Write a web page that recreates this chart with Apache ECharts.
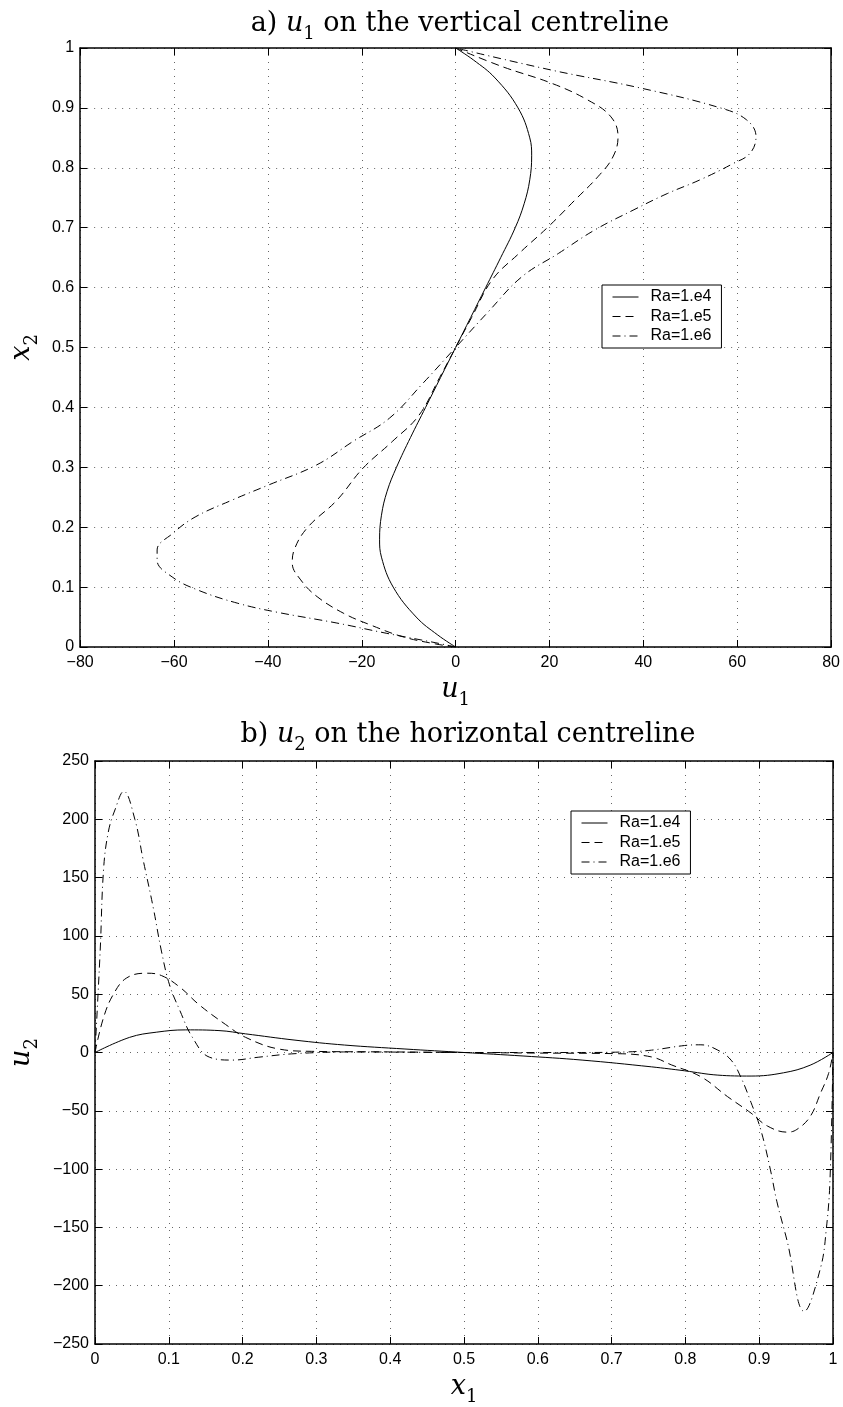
<!DOCTYPE html>
<html>
<head>
<meta charset="utf-8">
<script src="https://cdn.jsdelivr.net/npm/echarts@6/dist/echarts.min.js"></script>
<style>
  html, body { margin: 0; padding: 0; background: #fff; }
  #chart { width: 843px; height: 1407px; }
</style>
</head>
<body>
<div id="chart"></div>
<script>
// series names
const names = ['Ra=1.e4', 'Ra=1.e5', 'Ra=1.e6'];

// a) u1 on the vertical centreline  (x2 -> u1)
const aX2e4 = [0, 0.02, 0.05, 0.1, 0.15, 0.18, 0.22, 0.26, 0.3, 0.35, 0.4, 0.45, 0.5, 0.55, 0.6, 0.65, 0.7, 0.74, 0.78, 0.82, 0.85, 0.9, 0.95, 0.98, 1];
const aU1e4 = [0, -3.8, -8.4, -13.3, -15.8, -16.2, -15.8, -14.6, -12.6, -9.6, -6.4, -3.2, 0, 3.2, 6.4, 9.6, 12.7, 14.6, 15.8, 16.2, 15.8, 13.3, 8.4, 3.8, 0];

const aX2e5 = [0, 0.005, 0.017, 0.037, 0.056, 0.084, 0.112, 0.14, 0.162, 0.199, 0.245, 0.298, 0.343, 0.387, 0.45, 0.5, 0.55, 0.613, 0.657, 0.702, 0.746, 0.785, 0.818, 0.852, 0.885, 0.913, 0.941, 0.969, 1];
const aU1e5 = [0, -4.2, -11.2, -18.2, -23.8, -29.5, -33, -34.8, -34.4, -31.6, -25.3, -19.8, -13.5, -7.8, -3.4, 0, 3.4, 7.8, 13.5, 19.8, 25.4, 30.3, 33.5, 34.6, 33.1, 28.2, 20.5, 9.9, 0];

const aX2e6 = [0, 0.007, 0.023, 0.04, 0.058, 0.073, 0.095, 0.117, 0.145, 0.162, 0.19, 0.217, 0.245, 0.27, 0.304, 0.343, 0.382, 0.44, 0.5, 0.56, 0.618, 0.657, 0.696, 0.73, 0.757, 0.78, 0.807, 0.824, 0.852, 0.88, 0.9, 0.933, 0.963, 1];
const aU1e6 = [0, -4.2, -14.8, -25.3, -38, -46.4, -54.9, -60.4, -63.6, -63.6, -60.2, -55.5, -47.7, -40, -29.6, -21.9, -14.1, -7, 0, 7, 14.1, 21.9, 29.6, 38, 45.1, 52.1, 59.1, 62.7, 64, 62, 56.4, 39.5, 20.5, 0];

// b) u2 on the horizontal centreline  (x1 -> u2)
const bX1e4 = [0, 0.047, 0.083, 0.123, 0.168, 0.204, 0.271, 0.338, 0.42, 0.5, 0.58, 0.66, 0.754, 0.799, 0.844, 0.889, 0.933, 0.969, 1];
const bU2e4 = [0, 13, 17.4, 19.4, 18.8, 16, 10.6, 6.4, 3, 0, -3, -6.5, -12.3, -15.7, -19.4, -20.2, -17.4, -10.9, 0];

const bX1e5 = [0, 0.0116, 0.025, 0.043, 0.07, 0.09, 0.115, 0.141, 0.177, 0.204, 0.249, 0.293, 0.4, 0.5, 0.6, 0.707, 0.754, 0.781, 0.821, 0.857, 0.889, 0.911, 0.938, 0.951, 0.969, 0.983, 0.994, 1];
const bU2e5 = [0, 30, 50, 64, 68, 66, 56, 41, 24, 13, 3, 1, 0.5, 0, -0.5, -1, -3.8, -10.6, -20.8, -37.8, -52, -63, -68.3, -66, -55, -35, -18, 0];

const bX1e6 = [0, 0.007, 0.0116, 0.018, 0.027, 0.039, 0.054, 0.065, 0.079, 0.09, 0.101, 0.115, 0.132, 0.155, 0.186, 0.222, 0.271, 0.35, 0.5, 0.65, 0.72, 0.754, 0.799, 0.821, 0.844, 0.862, 0.875, 0.889, 0.902, 0.915, 0.924, 0.938, 0.961, 0.983, 0.991, 0.996, 1];
const bU2e6 = [0, 87, 157, 189, 208, 224, 200, 166, 124, 87, 58, 36, 13, -4, -6.5, -4, -1, 0.5, 0, 0, 0.5, 2, 6, 6.6, 2, -6.6, -21, -43, -66, -100, -128, -162, -222, -185, -151, -108, 0];

const lineTypes = ['solid', [8, 5], [8, 4, 1, 4]];

const chart = echarts.init(document.getElementById('chart'));

const serif = 'DejaVu Serif';
const sans = 'Liberation Sans';
const rich = {
  t: { fontFamily: serif, fontWeight: 'normal', fontSize: 27, color: '#000', padding: [0, 0, 6, 0], verticalAlign: 'bottom' },
  ti: { fontFamily: serif, fontWeight: 'normal', fontStyle: 'italic', fontSize: 27, color: '#000', padding: [0, 0, 6, 0], verticalAlign: 'bottom' },
  ts: { fontFamily: serif, fontWeight: 'normal', fontSize: 18, color: '#000', verticalAlign: 'bottom' },
  i: { fontFamily: serif, fontStyle: 'italic', fontSize: 27, color: '#000', padding: [0, 0, 6, 0], verticalAlign: 'bottom' },
  s: { fontFamily: serif, fontSize: 18, color: '#000', verticalAlign: 'bottom' }
};

const fmt = v => String(+(+v).toFixed(2)).replace('-', '\u2212');

function xAxes(gi, min, max, interval, name, gap) {
  return [{
    gridIndex: gi, type: 'value', min, max, interval, position: 'bottom',
    name, nameLocation: 'middle', nameGap: gap, nameTextStyle: { rich },
    axisLine: { onZero: false, lineStyle: { color: '#000', width: 1.5 } },
    axisTick: { inside: true, length: 7, lineStyle: { color: '#000', width: 1 } },
    axisLabel: { margin: 8, fontFamily: sans, fontSize: 16, color: '#000', formatter: fmt },
    splitLine: { show: true, lineStyle: { color: '#666', width: 1, type: [1, 6] } }
  }, {
    gridIndex: gi, type: 'value', min, max, interval, position: 'top',
    axisLine: { onZero: false, lineStyle: { color: '#000', width: 1.5 } },
    axisTick: { inside: true, length: 7, lineStyle: { color: '#000', width: 1 } },
    axisLabel: { show: false }, splitLine: { show: false }
  }];
}

function yAxes(gi, min, max, interval, name, gap) {
  return [{
    gridIndex: gi, type: 'value', min, max, interval, position: 'left',
    name, nameLocation: 'middle', nameGap: gap, nameRotate: 90, nameTextStyle: { rich },
    axisLine: { show: true, onZero: false, lineStyle: { color: '#000', width: 1.5 } },
    axisTick: { show: true, inside: true, length: 7, lineStyle: { color: '#000', width: 1 } },
    axisLabel: { margin: 6, fontFamily: sans, fontSize: 16, color: '#000', formatter: fmt },
    splitLine: { show: true, lineStyle: { color: '#666', width: 1, type: [1, 6] } }
  }, {
    gridIndex: gi, type: 'value', min, max, interval, position: 'right',
    axisLine: { show: true, onZero: false, lineStyle: { color: '#000', width: 1.5 } },
    axisTick: { show: true, inside: true, length: 7, lineStyle: { color: '#000', width: 1 } },
    axisLabel: { show: false }, splitLine: { show: false }
  }];
}

const pairs = (xs, ys) => xs.map((x, i) => [x, ys[i]]);

function line(name, k, xi, yi, data) {
  return {
    name, type: 'line', xAxisIndex: xi, yAxisIndex: yi, data,
    symbol: 'none', smooth: 0.4, clip: true,
    lineStyle: { color: '#000', width: 1, type: lineTypes[k] },
    itemStyle: { color: '#000' }
  };
}

function legendAt(left, top) {
  return {
    data: names, left, top, orient: 'vertical', selectedMode: false,
    backgroundColor: '#fff', borderColor: '#000', borderWidth: 1,
    padding: [3, 10, 3, 10], itemGap: 1.5, itemWidth: 26, itemHeight: 14,
    itemStyle: { color: 'rgba(0,0,0,0)', borderWidth: 0, opacity: 0 },
    lineStyle: { width: 1, color: '#000' },
    textStyle: { fontFamily: sans, fontSize: 16, lineHeight: 18, color: '#000', padding: [0, 0, 0, 7] }
  };
}

chart.setOption({
  animation: false,
  backgroundColor: '#fff',
  title: [{
    text: '{t|a) }{ti|u}{ts|1}{t| on the vertical centreline}',
    left: 455, top: 5, textAlign: 'center',
    textStyle: { rich }
  }, {
    text: '{t|b) }{ti|u}{ts|2}{t| on the horizontal centreline}',
    left: 463, top: 716, textAlign: 'center',
    textStyle: { rich }
  }],
  grid: [
    { left: 74, top: 48, width: 758, height: 599 },
    { left: 88, top: 761, width: 745, height: 589 }
  ],
  xAxis: [
    ...xAxes(0, -80, 80, 20, '{i|u}{s|1}', 29),
    ...xAxes(1, 0, 1, 0.1, '{i|x}{s|1}', 29)
  ],
  yAxis: [
    ...yAxes(0, 0, 1, 0.1, '{i|x}{s|2}', 38),
    ...yAxes(1, -250, 250, 50, '{i|u}{s|2}', 54)
  ],
  legend: [legendAt(602, 285), legendAt(571, 811)],
  series: [
    line(names[0], 0, 0, 0, pairs(aU1e4, aX2e4)),
    line(names[1], 1, 0, 0, pairs(aU1e5, aX2e5)),
    line(names[2], 2, 0, 0, pairs(aU1e6, aX2e6)),
    line(names[0], 0, 2, 2, pairs(bX1e4, bU2e4)),
    line(names[1], 1, 2, 2, pairs(bX1e5, bU2e5)),
    line(names[2], 2, 2, 2, pairs(bX1e6, bU2e6))
  ]
});
</script>
</body>
</html>
